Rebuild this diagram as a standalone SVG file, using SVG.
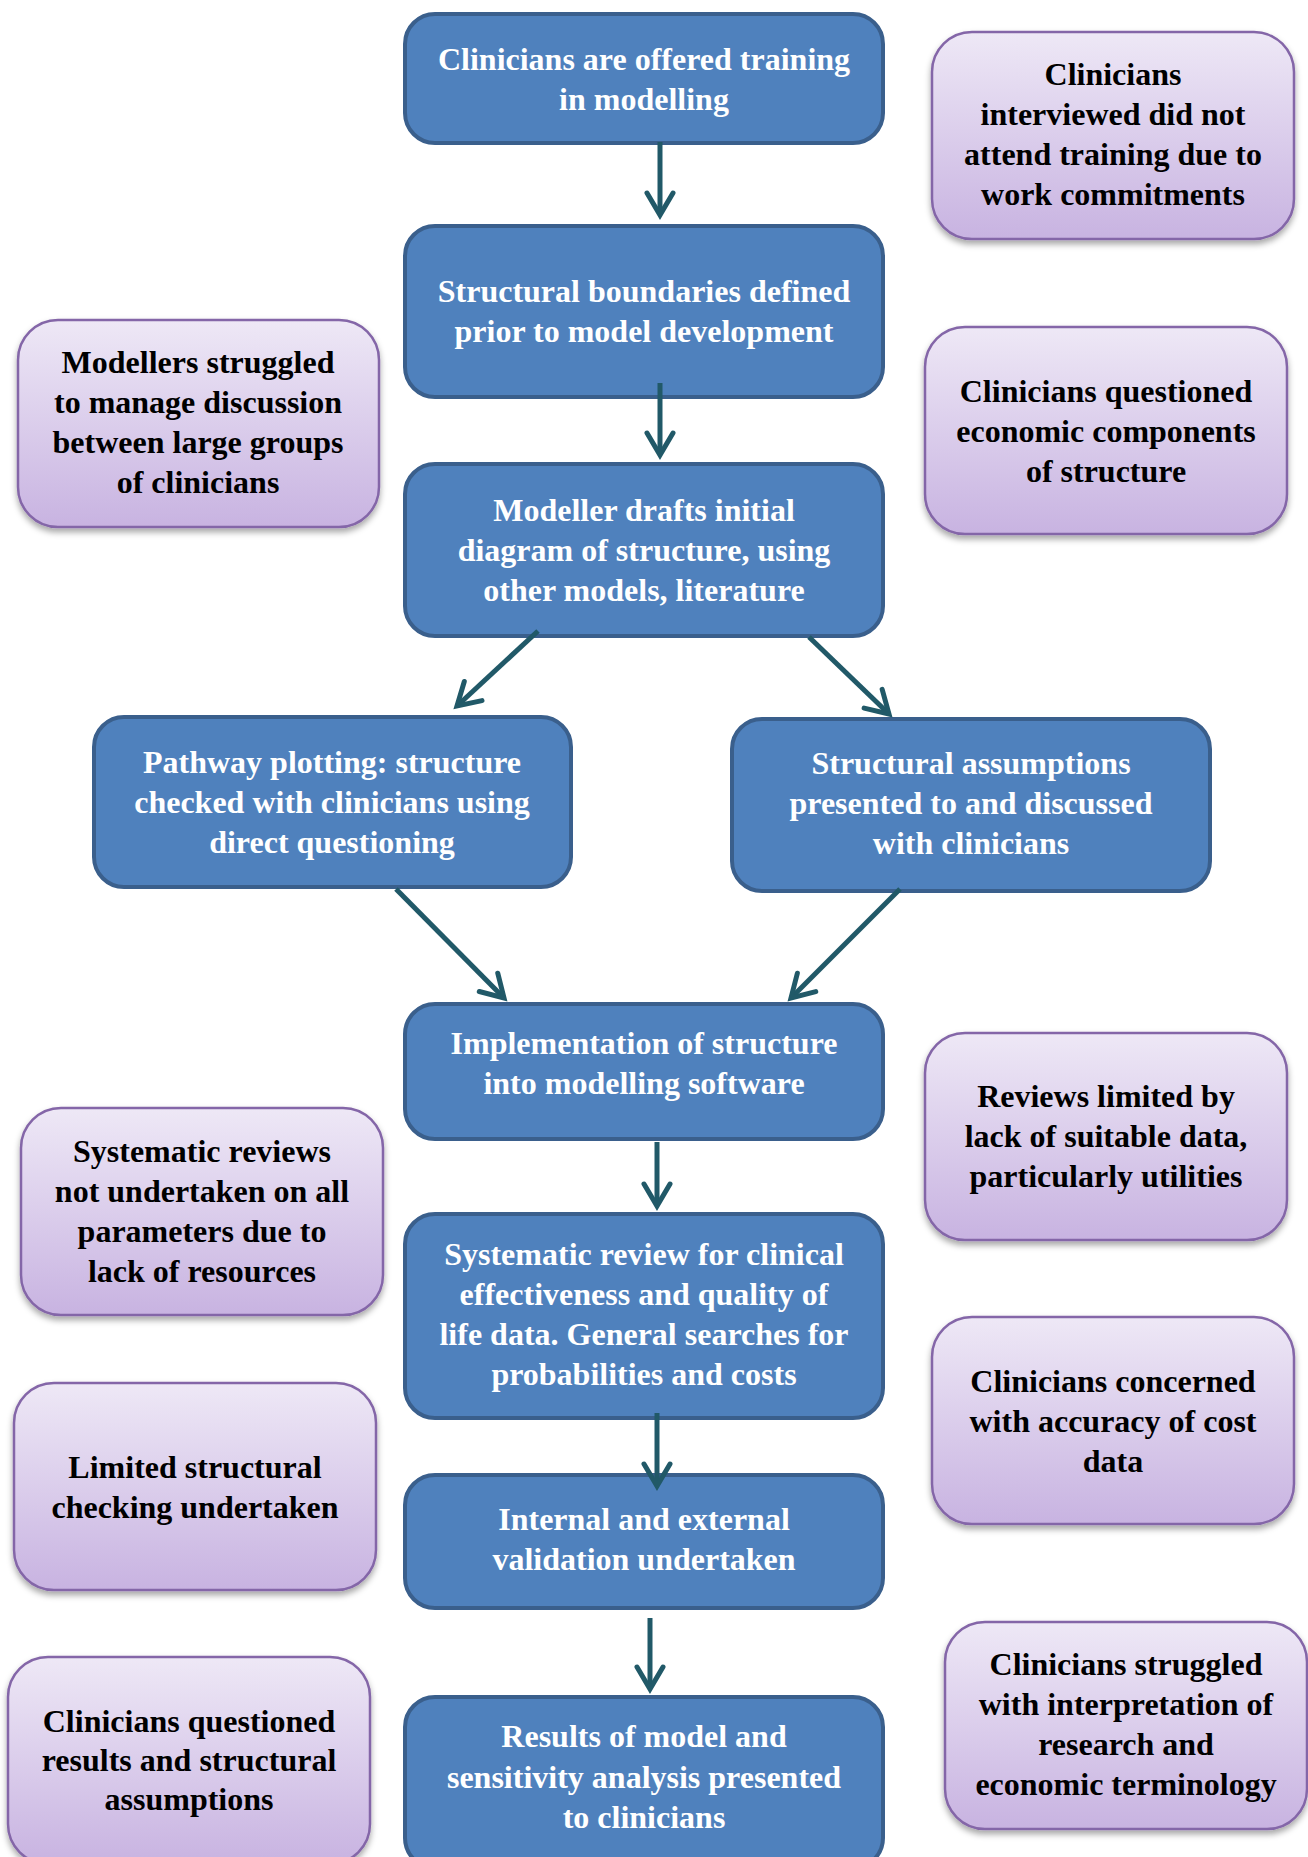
<svg xmlns="http://www.w3.org/2000/svg" width="1308" height="1857" viewBox="0 0 1308 1857">
  <defs>
    <linearGradient id="lilac" x1="0" y1="0" x2="0" y2="1">
      <stop offset="0" stop-color="#eee8f6"/>
      <stop offset="1" stop-color="#c8b3e1"/>
    </linearGradient>
    <filter id="shadow" x="-10%" y="-10%" width="120%" height="125%">
      <feDropShadow dx="0" dy="4" stdDeviation="3" flood-color="#000" flood-opacity="0.35"/>
    </filter>
    <marker id="chevron" markerUnits="userSpaceOnUse" markerWidth="40" markerHeight="40" viewBox="-30 -20 40 40" refX="0" refY="0" orient="auto">
      <path d="M-22,-13 L0,0 L-22,13" fill="none" stroke="#215968" stroke-width="5" stroke-linejoin="miter" stroke-linecap="round"/>
    </marker>
    <style>
      .step rect { fill: #4f81bd; stroke: #3a5f8c; stroke-width: 4; }
      .step text { fill: #ffffff; }
      .note rect { fill: url(#lilac); stroke: #8466a8; stroke-width: 2.5; filter: url(#shadow); }
      .note text { fill: #000000; }
      text { font-family: "Liberation Serif", "Times New Roman", serif; font-weight: bold; font-size: 32px; text-anchor: middle; }
      .link { fill: none; stroke: #215968; stroke-width: 5; marker-end: url(#chevron); }
    </style>
  </defs>

  <rect width="1308" height="1857" fill="#ffffff"/>

  <!-- Process steps -->
  <g id="step-training" class="step">
    <rect x="405" y="14" width="478" height="129" rx="30"/>
    <text x="644" y="70">Clinicians are offered training</text>
    <text x="644" y="110">in modelling</text>
  </g>
  <g id="step-boundaries" class="step">
    <rect x="405" y="226" width="478" height="171" rx="30"/>
    <text x="644" y="302">Structural boundaries defined</text>
    <text x="644" y="342">prior to model development</text>
  </g>
  <g id="step-draft" class="step">
    <rect x="405" y="464" width="478" height="172" rx="30"/>
    <text x="644" y="521">Modeller drafts initial</text>
    <text x="644" y="561">diagram of structure, using</text>
    <text x="644" y="601">other models, literature</text>
  </g>
  <g id="step-pathway" class="step">
    <rect x="94" y="717" width="477" height="170" rx="30"/>
    <text x="332" y="773">Pathway plotting: structure</text>
    <text x="332" y="813">checked with clinicians using</text>
    <text x="332" y="853">direct questioning</text>
  </g>
  <g id="step-assumptions" class="step">
    <rect x="732" y="719" width="478" height="172" rx="30"/>
    <text x="971" y="774">Structural assumptions</text>
    <text x="971" y="814">presented to and discussed</text>
    <text x="971" y="854">with clinicians</text>
  </g>
  <g id="step-implementation" class="step">
    <rect x="405" y="1004" width="478" height="135" rx="30"/>
    <text x="644" y="1054">Implementation of structure</text>
    <text x="644" y="1094">into modelling software</text>
  </g>
  <g id="step-review" class="step">
    <rect x="405" y="1214" width="478" height="204" rx="30"/>
    <text x="644" y="1265">Systematic review for clinical</text>
    <text x="644" y="1305">effectiveness and quality of</text>
    <text x="644" y="1345">life data. General searches for</text>
    <text x="644" y="1385">probabilities and costs</text>
  </g>
  <g id="step-validation" class="step">
    <rect x="405" y="1475" width="478" height="133" rx="30"/>
    <text x="644" y="1530">Internal and external</text>
    <text x="644" y="1570">validation undertaken</text>
  </g>
  <g id="step-results" class="step">
    <rect x="405" y="1697" width="478" height="171" rx="30"/>
    <text x="644" y="1747">Results of model and</text>
    <text x="644" y="1788">sensitivity analysis presented</text>
    <text x="644" y="1828">to clinicians</text>
  </g>

  <!-- Issues raised alongside the steps -->
  <g id="note-training" class="note">
    <rect x="932" y="32" width="362" height="207" rx="40"/>
    <text x="1113" y="85">Clinicians</text>
    <text x="1113" y="125">interviewed did not</text>
    <text x="1113" y="165">attend training due to</text>
    <text x="1113" y="205">work commitments</text>
  </g>
  <g id="note-discussion" class="note">
    <rect x="18" y="320" width="361" height="207" rx="40"/>
    <text x="198" y="373">Modellers struggled</text>
    <text x="198" y="413">to manage discussion</text>
    <text x="198" y="453">between large groups</text>
    <text x="198" y="493">of clinicians</text>
  </g>
  <g id="note-economic" class="note">
    <rect x="925" y="327" width="362" height="207" rx="40"/>
    <text x="1106" y="402">Clinicians questioned</text>
    <text x="1106" y="442">economic components</text>
    <text x="1106" y="482">of structure</text>
  </g>
  <g id="note-data" class="note">
    <rect x="925" y="1033" width="362" height="207" rx="40"/>
    <text x="1106" y="1107">Reviews limited by</text>
    <text x="1106" y="1147">lack of suitable data,</text>
    <text x="1106" y="1187">particularly utilities</text>
  </g>
  <g id="note-resources" class="note">
    <rect x="21" y="1108" width="362" height="207" rx="40"/>
    <text x="202" y="1162">Systematic reviews</text>
    <text x="202" y="1202">not undertaken on all</text>
    <text x="202" y="1242">parameters due to</text>
    <text x="202" y="1282">lack of resources</text>
  </g>
  <g id="note-cost" class="note">
    <rect x="932" y="1317" width="362" height="207" rx="40"/>
    <text x="1113" y="1392">Clinicians concerned</text>
    <text x="1113" y="1432">with accuracy of cost</text>
    <text x="1113" y="1472">data</text>
  </g>
  <g id="note-checking" class="note">
    <rect x="14" y="1383" width="362" height="207" rx="40"/>
    <text x="195" y="1478">Limited structural</text>
    <text x="195" y="1518">checking undertaken</text>
  </g>
  <g id="note-terminology" class="note">
    <rect x="945" y="1622" width="362" height="207" rx="40"/>
    <text x="1126" y="1675">Clinicians struggled</text>
    <text x="1126" y="1715">with interpretation of</text>
    <text x="1126" y="1755">research and</text>
    <text x="1126" y="1795">economic terminology</text>
  </g>
  <g id="note-results" class="note">
    <rect x="8" y="1657" width="362" height="207" rx="40"/>
    <text x="189" y="1732">Clinicians questioned</text>
    <text x="189" y="1771">results and structural</text>
    <text x="189" y="1810">assumptions</text>
  </g>

  <!-- Flow connectors -->
  <g id="connectors">
    <line class="link" x1="660" y1="142" x2="660" y2="215"/>
    <line class="link" x1="660" y1="383" x2="660" y2="455"/>
    <line class="link" x1="538" y1="631" x2="457" y2="706"/>
    <line class="link" x1="809" y1="637" x2="889" y2="714"/>
    <line class="link" x1="396" y1="889" x2="504" y2="998"/>
    <line class="link" x1="900" y1="889" x2="791" y2="998"/>
    <line class="link" x1="657" y1="1142" x2="657" y2="1206"/>
    <line class="link" x1="657" y1="1413" x2="657" y2="1486"/>
    <line class="link" x1="650" y1="1618" x2="650" y2="1689"/>
  </g>
</svg>
